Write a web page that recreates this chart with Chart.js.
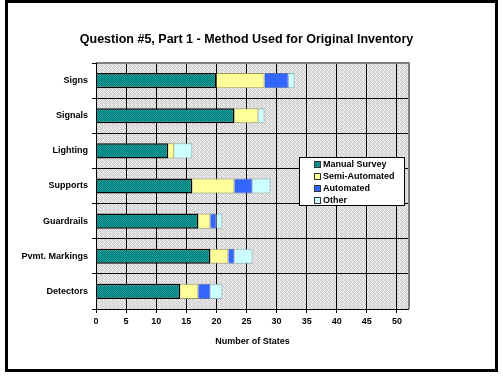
<!DOCTYPE html>
<html>
<head>
<meta charset="utf-8">
<script src="https://cdn.jsdelivr.net/npm/chart.js@4/dist/chart.umd.min.js"></script>
<style>
html,body{margin:0;padding:0;background:#fff;}
#wrap{width:503px;height:381px;position:relative;}
</style>
</head>
<body>
<div id="wrap"><canvas id="c" width="503" height="381"></canvas></div>
<script>
const categories = ["Signs", "Signals", "Lighting", "Supports", "Guardrails", "Pvmt. Markings", "Detectors"];
const manualSurvey  = [20, 23, 12, 16, 17, 19, 14];
const semiAutomated = [8, 4, 1, 7, 2, 3, 3];
const automated     = [4, 0, 0, 3, 1, 1, 2];
const other         = [1, 1, 3, 3, 1, 3, 2];
const seriesNames = ["Manual Survey", "Semi-Automated", "Automated", "Other"];
const xTickValues = [0, 5, 10, 15, 20, 25, 30, 35, 40, 45, 50];
const chartTitle = "Question #5, Part 1 - Method Used for Original Inventory";
const xTitle = "Number of States";

function makePattern(rows) {
  const n = rows.length;
  const cv = document.createElement('canvas');
  cv.width = n; cv.height = n;
  const cx = cv.getContext('2d');
  for (let y = 0; y < n; y++) for (let x = 0; x < n; x++) {
    cx.fillStyle = rows[y][x]; cx.fillRect(x, y, 1, 1);
  }
  return cx.createPattern(cv, 'repeat');
}
const tealA = '#007c7a', tealB = '#1a9c98';
const tealPattern = makePattern([[tealA, tealB], [tealB, tealA]]);
const g = v => '#' + v + v + v;
const bgPattern = makePattern([
  [g('ea'), g('c8'), g('de'), g('f2')],
  [g('d0'), g('ee'), g('c6'), g('e2')],
  [g('f0'), g('d4'), g('e8'), g('cc')],
  [g('c8'), g('e6'), g('d0'), g('ee')]
]);

const FONT = "'Liberation Sans', Arial, sans-serif";

const decorPlugin = {
  id: 'decor',
  beforeDraw(chart) {
    const {ctx, chartArea: a} = chart;
    ctx.save();
    ctx.fillStyle = '#fff';
    ctx.fillRect(0, 0, chart.width, chart.height);
    ctx.fillStyle = bgPattern;
    ctx.fillRect(a.left, a.top, a.right - a.left, a.bottom - a.top);
    ctx.restore();
  },
  afterDatasetsDraw(chart) {
    const {ctx, chartArea: a} = chart;
    ctx.save();
    ctx.strokeStyle = '#808080';
    ctx.lineWidth = 2;
    ctx.beginPath();
    ctx.moveTo(a.left, a.top);
    ctx.lineTo(a.right, a.top);
    ctx.lineTo(a.right, a.bottom);
    ctx.stroke();
    ctx.strokeStyle = '#000';
    ctx.lineWidth = 1;
    ctx.beginPath();
    ctx.moveTo(a.left + 0.5, a.top);
    ctx.lineTo(a.left + 0.5, a.bottom + 0.5);
    ctx.lineTo(a.right, a.bottom + 0.5);
    ctx.stroke();
    ctx.lineWidth = 3;
    ctx.strokeRect(6.5, 1.5, 490, 369);
    ctx.fillStyle = '#000';
    ctx.font = 'bold 12.5px ' + FONT;
    ctx.textAlign = 'center';
    ctx.textBaseline = 'middle';
    ctx.fillText(chartTitle, 246.5, 40);
    const lx = 299, ly = 157, lw = 105, lh = 48;
    ctx.fillStyle = '#fff';
    ctx.fillRect(lx, ly, lw, lh);
    ctx.strokeStyle = '#000';
    ctx.lineWidth = 1;
    ctx.strokeRect(lx + 0.5, ly + 0.5, lw, lh);
    ctx.font = 'bold 9px ' + FONT;
    ctx.textAlign = 'left';
    chart.data.datasets.forEach((ds, i) => {
      const cy = ly + 7 + i * 12;
      ctx.fillStyle = ds.backgroundColor;
      ctx.fillRect(lx + 15, cy - 3, 6, 6);
      ctx.strokeStyle = '#333';
      ctx.strokeRect(lx + 15.5, cy - 2.5, 6, 6);
      ctx.fillStyle = '#000';
      ctx.fillText(ds.label, lx + 24, cy + 0.5);
    });
    ctx.restore();
  }
};

new Chart(document.getElementById('c'), {
  type: 'bar',
  data: {
    labels: categories,
    datasets: [
      {label: seriesNames[0], data: manualSurvey, backgroundColor: tealPattern, borderColor: '#000', borderWidth: 1.5},
      {label: seriesNames[1], data: semiAutomated, backgroundColor: '#ffff99', borderColor: '#9a9a60', borderWidth: 1},
      {label: seriesNames[2], data: automated, backgroundColor: '#3366ff', borderColor: '#5a6fb0', borderWidth: 1},
      {label: seriesNames[3], data: other, backgroundColor: '#ccffff', borderColor: '#8ab0b0', borderWidth: 1}
    ]
  },
  options: {
    indexAxis: 'y',
    responsive: false,
    animation: false,
    devicePixelRatio: 1,
    layout: {padding: {left: 0, right: 94, top: 63, bottom: 0}},
    datasets: {bar: {categoryPercentage: 1, barPercentage: 0.43}},
    plugins: {legend: {display: false}, title: {display: false}, tooltip: {enabled: false}},
    scales: {
      x: {
        type: 'linear', stacked: true, min: 0, max: 52, position: 'bottom',
        afterBuildTicks: s => { s.ticks = xTickValues.map(v => ({value: v})); },
        afterFit: s => { s.height = 72; },
        ticks: {stepSize: 5, color: '#000', font: {family: FONT, size: 9, weight: 'bold'}, padding: 3, maxRotation: 0, autoSkip: false},
        grid: {color: '#000', lineWidth: 1, tickLength: 4, drawOnChartArea: true},
        border: {display: false},
        title: {display: true, text: xTitle, color: '#000', font: {family: FONT, size: 9, weight: 'bold'}, padding: {top: 0, bottom: 34}}
      },
      y: {
        type: 'category', stacked: true,
        afterFit: s => { s.width = 96; },
        ticks: {color: '#000', font: {family: FONT, size: 9, weight: 'bold'}, padding: 4, autoSkip: false},
        grid: {color: '#000', lineWidth: 1, tickLength: 4, offset: true, drawOnChartArea: true},
        border: {display: false}
      }
    }
  },
  plugins: [decorPlugin]
});
</script>
</body>
</html>
